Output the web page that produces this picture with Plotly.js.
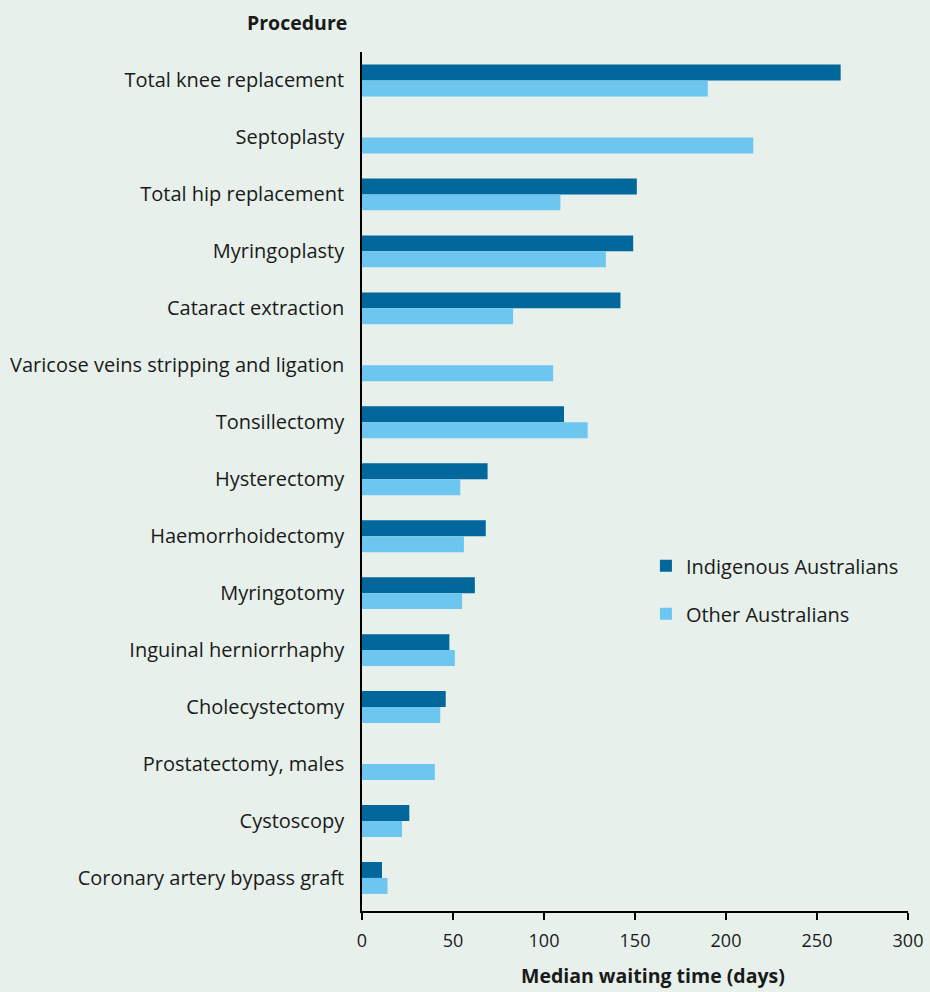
<!DOCTYPE html>
<html>
<head>
<meta charset="utf-8">
<script src="https://cdn.plot.ly/plotly-3.0.1.min.js"></script>
<style>html,body{margin:0;padding:0;background:#e7f0eb;}</style>
</head>
<body>
<div id="chart" style="width:930px;height:992px;"></div>
<script>
const procedures = [
  "Total knee replacement",
  "Septoplasty",
  "Total hip replacement",
  "Myringoplasty",
  "Cataract extraction",
  "Varicose veins stripping and ligation",
  "Tonsillectomy",
  "Hysterectomy",
  "Haemorrhoidectomy",
  "Myringotomy",
  "Inguinal herniorrhaphy",
  "Cholecystectomy",
  "Prostatectomy, males",
  "Cystoscopy",
  "Coronary artery bypass graft"
];
const indigenous = [263, null, 151, 149, 142, null, 111, 69, 68, 62, 48, 46, null, 26, 11];
const other      = [190, 215, 109, 134, 83, 105, 124, 54, 56, 55, 51, 43, 40, 22, 14];
const xTicks = [0, 50, 100, 150, 200, 250, 300];

const FONT = "Open Sans, Noto Sans, sans-serif";

const traces = [
  {
    type: "bar", orientation: "h", name: "Indigenous Australians",
    y: procedures, x: indigenous, legendgroup: "a",
    marker: {color: "#02679b"}, hoverinfo: "x+y"
  },
  {
    type: "bar", orientation: "h", name: "Other Australians",
    y: procedures, x: other, legendgroup: "b",
    marker: {color: "#6dc6f0"}, hoverinfo: "x+y"
  }
];

const layout = {
  width: 930, height: 992,
  paper_bgcolor: "#e7f0eb", plot_bgcolor: "#e7f0eb",
  font: {family: FONT, size: 18, color: "#1a1a1a"},
  margin: {l: 362, r: 22, t: 52, b: 81},
  barmode: "group", bargap: 0.44, bargroupgap: 0,
  showlegend: true,
  legend: {
    x: 0.52, y: 0.4245, xanchor: "left", yanchor: "top",
    bgcolor: "rgba(0,0,0,0)", traceorder: "grouped",
    tracegroupgap: 19, font: {family: FONT, size: 20, color: "#1a1a1a"}
  },
  xaxis: {
    range: [0, 300], tickvals: xTicks, ticktext: xTicks.map(String),
    showgrid: false, zeroline: false, showline: true, linecolor: "#000", linewidth: 1.5,
    ticks: "outside", ticklen: 7, tickcolor: "#000", tickwidth: 1.5,
    ticklabelstandoff: 6,
    tickfont: {family: FONT, size: 18, color: "#1a1a1a"},
    fixedrange: true
  },
  yaxis: {
    type: "category", categoryorder: "array", categoryarray: procedures,
    range: [14.58, -0.5],
    showgrid: false, zeroline: false, showline: true, linecolor: "#000", linewidth: 1.5,
    ticks: "", ticklabelstandoff: 12,
    tickfont: {family: FONT, size: 20, color: "#1a1a1a"},
    fixedrange: true
  },
  annotations: [
    {text: "<b>Procedure</b>", xref: "paper", yref: "paper", x: -0.0235, y: 1, xanchor: "right", yanchor: "bottom",
     yshift: 14, showarrow: false, font: {family: FONT, size: 19.5, color: "#1a1a1a"}},
    {text: "<b>Median waiting time (days)</b>", xref: "paper", yref: "paper", x: 0.533, y: 0, xanchor: "center", yanchor: "middle",
     yshift: -64, showarrow: false, font: {family: FONT, size: 19.5, color: "#1a1a1a"}}
  ]
};

Plotly.newPlot("chart", traces, layout, {displayModeBar: false, staticPlot: false});
</script>
</body>
</html>
